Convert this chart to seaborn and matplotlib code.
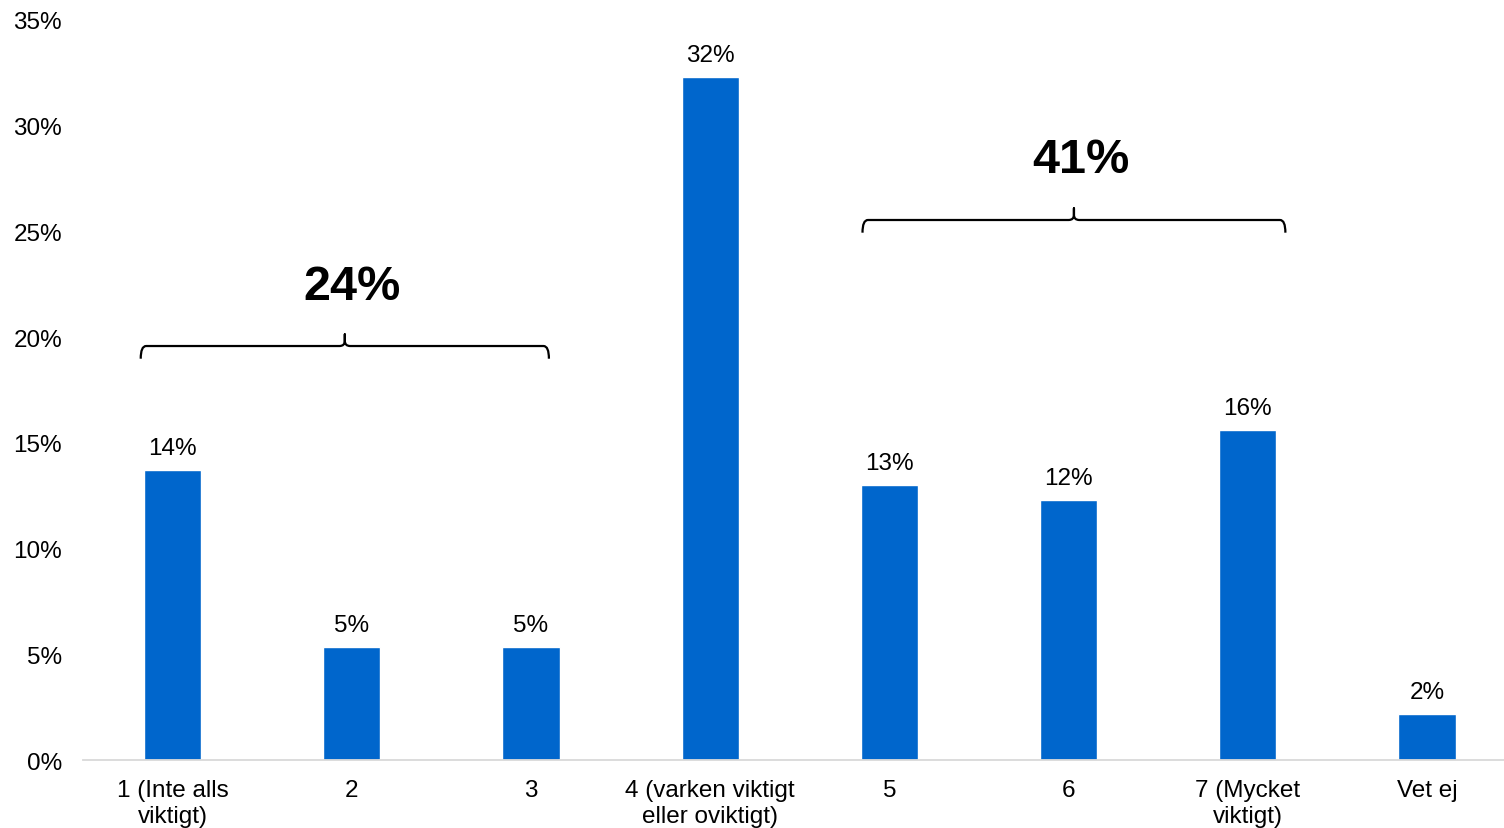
import matplotlib
matplotlib.use("Agg")
import matplotlib.pyplot as plt
from matplotlib.path import Path
from matplotlib.patches import PathPatch
import seaborn as sns
import pandas as pd

# Survey answers on a 1-7 importance scale
categories = ["1 (Inte alls\nviktigt)", "2", "3", "4 (varken viktigt\neller oviktigt)",
              "5", "6", "7 (Mycket\nviktigt)", "Vet ej"]
values = [13.7, 5.35, 5.35, 32.3, 13.0, 12.3, 15.6, 2.18]
value_labels = ["14%", "5%", "5%", "32%", "13%", "12%", "16%", "2%"]

# Grouped totals shown above the braces
group_labels = ["24%", "41%"]

BAR_COLOR = "#0066CC"

sns.set_theme(style="white")
plt.rcParams["font.family"] = ["Liberation Sans", "DejaVu Sans"]

fig = plt.figure(figsize=(15.04, 8.29), dpi=100)
ax = fig.add_axes([0.0552, 0.082, 0.9448, 0.8927])

df = pd.DataFrame({"cat": categories, "val": values})
sns.barplot(data=df, x="cat", y="val", color=BAR_COLOR, saturation=1,
            width=0.32, ax=ax)

for i, (v, lab) in enumerate(zip(values, value_labels)):
    ax.annotate(lab, (i, v), xytext=(0, 8), textcoords="offset points",
                ha="center", va="bottom", fontsize=17.5, color="#000000")


def brace(ax, x0, x1, y, drop=0.6, tip=0.55, r=0.03):
    xc = (x0 + x1) / 2
    verts = [
        (x0, y - drop), (x0, y), (x0 + r, y),
        (xc - r, y), (xc, y), (xc, y + tip * 0.45), (xc, y + tip),
        (xc, y + tip * 0.45), (xc, y), (xc + r, y),
        (x1 - r, y), (x1, y), (x1, y - drop),
    ]
    codes = [
        Path.MOVETO, Path.CURVE3, Path.CURVE3,
        Path.LINETO, Path.CURVE3, Path.CURVE3, Path.LINETO,
        Path.LINETO, Path.CURVE3, Path.CURVE3,
        Path.LINETO, Path.CURVE3, Path.CURVE3,
    ]
    ax.add_patch(PathPatch(Path(verts, codes), fill=False, lw=1.6,
                           edgecolor="#000000", capstyle="butt",
                           joinstyle="round", clip_on=False))


# brace extents and heights follow the grouped bars
brace_specs = [(-0.178, 2.10, 19.58), (3.85, 6.21, 25.54)]
label_y = [22.4, 28.4]
for (x0, x1, y), lab, ly in zip(brace_specs, group_labels, label_y):
    brace(ax, x0, x1, y)
    ax.text((x0 + x1) / 2 + 0.04, ly, lab, ha="center", va="center",
            fontsize=35, fontweight="bold", color="#000000")

ax.set_xlim(-0.5, 7.43)
ax.set_ylim(0, 35)
ax.set_yticks(range(0, 36, 5))
ax.set_yticklabels([f"{t}%" for t in range(0, 36, 5)])
ax.set_xlabel("")
ax.set_ylabel("")
ax.tick_params(axis="y", length=0, pad=15, labelsize=17.5, labelcolor="#000000")
ax.tick_params(axis="x", length=0, pad=14, labelsize=17.5, labelcolor="#000000")
for t in ax.get_xticklabels():
    t.set_linespacing(1.22)

for side in ["top", "right", "left"]:
    ax.spines[side].set_visible(False)
ax.spines["bottom"].set_color("#D9D9D9")
ax.spines["bottom"].set_linewidth(1.3)
ax.grid(False)

fig.savefig("out.png", dpi=100, facecolor="white")
